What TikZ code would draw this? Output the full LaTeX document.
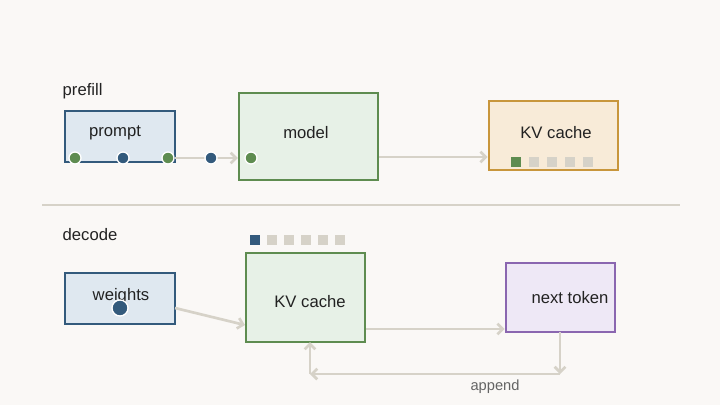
\documentclass[tikz,border=0pt]{standalone}
\usepackage{fontspec}
\setmainfont{Liberation Sans}
\usetikzlibrary{positioning}
\usetikzlibrary{arrows.meta}
\definecolor{bg}{HTML}{FAF8F6}
\definecolor{cblue}{HTML}{335A7C}
\definecolor{fblue}{HTML}{DFE8F0}
\definecolor{cgreen}{HTML}{5E8C50}
\definecolor{fgreen}{HTML}{E7F1E7}
\definecolor{corange}{HTML}{C8963C}
\definecolor{forange}{HTML}{F8EBD8}
\definecolor{cpurple}{HTML}{8A66B0}
\definecolor{fpurple}{HTML}{EEE8F6}
\definecolor{cgray}{HTML}{D6D2C8}
\definecolor{ctext}{HTML}{222222}
\tikzstyle{label} = [draw=none, fill=none, anchor=west, text=ctext, font=\fontsize{12.5}{14}\selectfont]
\tikzstyle{block} = [rectangle, draw, line width=1.8pt, text=ctext, font=\fontsize{12.5}{14}\selectfont, inner sep=0pt]
\tikzstyle{flow} = [draw=cgray, line width=2pt, -{Straight Barb[length=4pt,width=8pt]}]
\tikzstyle{dot} = [circle, draw=white, line width=1pt, inner sep=0pt, minimum size=9pt]
\tikzstyle{slot} = [rectangle, fill=cgray, inner sep=0pt, minimum size=8pt]

\begin{document}
\begin{tikzpicture}[x=0.75pt, y=-0.75pt]
	% background
	\fill [bg] (0,0) rectangle (720,405);
	\useasboundingbox (0,0) rectangle (720,405);

	% section titles
	\node [label] (T1) at (58,91)  {prefill};
	\node [label] (T2) at (58,235) {decode};
	\draw [cgray, line width=1.5pt] (42,205) -- (680,205);

	% prefill blocks
	\node [block, draw=cblue, fill=fblue, minimum width=82.5pt, minimum height=38pt] (P) at (120,136.5) {};
	\node [label, anchor=center] at (115,133) {prompt};
	\node [block, draw=cgreen, fill=fgreen, minimum width=104pt, minimum height=65pt] (M) at (308.5,136.5) {};
	\node [label, anchor=center] at (306,133) {model};
	\node [block, draw=corange, fill=forange, minimum width=97pt, minimum height=52pt] (C1) at (553.5,135.5) {};
	\node [label, anchor=center] at (556,133) {KV cache};
	\foreach \i in {1,...,4}
		\node [slot] at (516+18*\i,162) {};
	\node [slot, fill=cgreen] at (516,162) {};

	% decode blocks
	\node [block, draw=cblue, fill=fblue, minimum width=82.5pt, minimum height=38pt] (W) at (120,298.5) {};
	\node [label, anchor=center] at (121,296) {weights};
	\node [block, draw=cgreen, fill=fgreen, minimum width=89pt, minimum height=67pt] (C2) at (305.5,297.5) {};
	\node [label, anchor=center] at (310,302) {KV cache};
	\node [block, draw=cpurple, fill=fpurple, minimum width=82pt, minimum height=52pt] (N) at (560.5,297.5) {};
	\node [label, anchor=center] at (570,298) {next token};
	\foreach \i in {1,...,5}
		\node [slot] at (255+17*\i,240) {};
	\node [slot, fill=cblue] at (255,240) {};

	% loop corners
	\coordinate (A) at (560,332);
	\coordinate (B) at (560,374);
	\coordinate (D) at (310,374);
	\coordinate (E) at (310,342);

	% draw edges
	\path [flow] (175,158) -- (M.west |- 0,158);
	\path [flow] (M.east |- 0,157) -- (C1.west |- 0,157);
	\path [flow] (175,308) -- (C2.west |- 0,325);
	\path [flow] (C2.east |- 0,329) -- (N.west |- 0,329);
	\path [flow] (A) -- (B);
	\path [flow] (B) -- (D);
	\path [flow] (D) -- (E);
	\node [draw=none, text=ctext!70, font=\fontsize{11}{13}\selectfont] (L) at (495,387) {append};

	% dots
	\node [dot, fill=cgreen] at (75,158) {};
	\node [dot, fill=cblue]  at (123,158) {};
	\node [dot, fill=cgreen] at (168,158) {};
	\node [dot, fill=cblue]  at (211,158) {};
	\node [dot, fill=cgreen] at (251,158) {};
	\node [dot, fill=cblue, minimum size=12pt] at (120,308) {};
\end{tikzpicture}
\end{document}
